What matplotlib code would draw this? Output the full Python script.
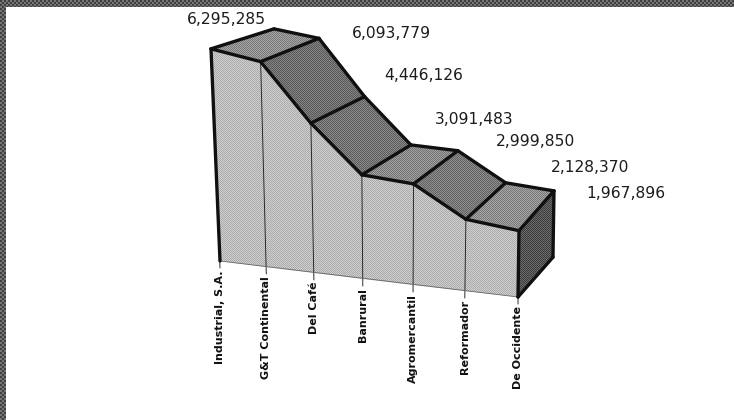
import numpy as np
import matplotlib
matplotlib.use("Agg")
import matplotlib.pyplot as plt
from matplotlib.patches import Polygon

categories = ["Industrial, S.A.", "G&T Continental", "Del Café", "Banrural",
              "Agromercantil", "Reformador", "De Occidente"]
values = [6295285, 6093779, 4446126, 3091483, 2999850, 2128370, 1967896]

W, H = 734, 420
n = len(values)

# oblique projection: category, depth (0 front, 1 back), value -> canvas pixels
def persp(i, k):
    u = i / (n - 1)
    return u * (1 - k) / (1 - k * u)

def project(i, d, v):
    x = 220 + 298 * persp(i, 0.08) if v == 0 else 211 + 308 * persp(i, 0.04)
    y = 261 + 6 * i - v * 33.7e-6
    return (x + d * (63 - 4.67 * i), y - d * (20 + 3.3 * i))

fig = plt.figure(figsize=(W / 100, H / 100), dpi=100)
ax = fig.add_axes([0, 0, 1, 1])
ax.set_xlim(0, W)
ax.set_ylim(H, 0)
ax.axis("off")

yy, xx = np.mgrid[0:H, 0:W]
checker = ((xx + yy) % 2).astype(float)

def dither(level, amp, clip):
    im = ax.imshow(level + amp * (checker - 0.5), extent=(0, W, H, 0), cmap="gray",
                   vmin=0, vmax=1, interpolation="nearest", aspect="auto", zorder=1)
    im.set_clip_path(clip)

# page frame: textured strips at the top and left
coarse = (((xx // 2) + (yy // 2)) % 2).astype(float)
frame = np.where((xx < 6) | (yy < 7), 0.36 + 0.2 * (coarse - 0.5), 1.0)
ax.imshow(frame, extent=(0, W, H, 0), cmap="gray", vmin=0, vmax=1,
          interpolation="nearest", aspect="auto", zorder=0)

ax.set_xlim(0, W)
ax.set_ylim(H, 0)

# front face
front = [project(i, 0, values[i]) for i in range(n)] + [project(i, 0, 0) for i in range(n - 1, -1, -1)]
p = Polygon(front, closed=True, fc="none", ec="none", zorder=1)
ax.add_patch(p)
dither(0.74, 0.14, p)

# roof strips
roof_levels = [0.56, 0.43, 0.45, 0.54, 0.47, 0.56]
for i in range(n - 1):
    q = Polygon([project(i, 0, values[i]), project(i + 1, 0, values[i + 1]),
                 project(i + 1, 1, values[i + 1]), project(i, 1, values[i])],
                closed=True, fc="none", ec="none", zorder=1)
    ax.add_patch(q)
    dither(roof_levels[i], 0.18, q)

# right side
last = n - 1
side = [project(last, 0, values[last]), project(last, 1, values[last]),
        project(last, 1, 0), project(last, 0, 0)]
q = Polygon(side, closed=True, fc="none", ec="none", zorder=1)
ax.add_patch(q)
dither(0.33, 0.18, q)

def seg(a, b, lw, color="#101010", z=4):
    ax.plot([a[0], b[0]], [a[1], b[1]], color=color, lw=lw, zorder=z,
            solid_capstyle="round", solid_joinstyle="round")

# thin category rules and ticks
for i in range(n):
    b = project(i, 0, 0)
    t = project(i, 0, values[i])
    seg(t, (b[0], b[1] + 7), 0.7, "#2a2a2a", 3)

# baseline
seg(project(0, 0, 0), project(last, 0, 0), 0.6, "#666666", 3)

# heavy outlines
TH = 2.4
for i in range(n - 1):
    seg(project(i, 0, values[i]), project(i + 1, 0, values[i + 1]), TH)
    seg(project(i, 1, values[i]), project(i + 1, 1, values[i + 1]), TH)
for i in range(n):
    seg(project(i, 0, values[i]), project(i, 1, values[i]), TH)
seg(project(0, 0, values[0]), project(0, 0, 0), TH)
seg(project(last, 0, values[last]), project(last, 0, 0), TH)
seg(project(last, 1, values[last]), project(last, 1, 0), TH)
seg(project(last, 1, 0), project(last, 0, 0), TH)

# value labels
label_left = [187, 352, 384, 435, 496, 551, 586]
label_mid = [20, 33, 76, 119, 142, 168, 194]
for v, x, y in zip(values, label_left, label_mid):
    ax.text(x, y, f"{v:,}", ha="left", va="center", fontsize=11.2,
            family="DejaVu Sans", color="#1c1c1c", zorder=5)

# category labels
for i, c in enumerate(categories):
    b = project(i, 0, 0)
    ax.text(b[0], b[1] + 9, c, rotation=90, ha="center", va="top", fontsize=8,
            family="DejaVu Sans", fontweight="bold", color="#111111", zorder=5)

fig.savefig("out.png", dpi=100)
